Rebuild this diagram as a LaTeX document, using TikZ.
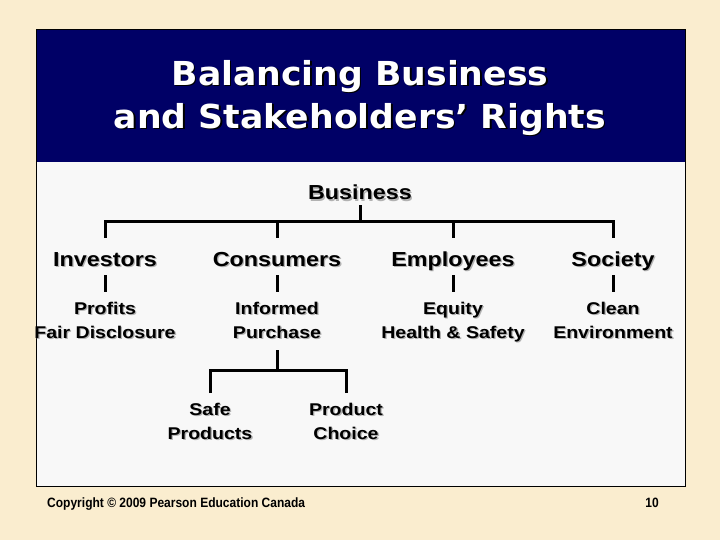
\documentclass[tikz,border=0pt]{standalone}
\usepackage{fontspec}
\setmainfont{Liberation Sans}
\newfontfamily\labelfont[FakeStretch=1.15]{Liberation Sans}
\newfontfamily\titlefont[FakeStretch=1.05]{DejaVu Sans}
\newfontfamily\footfont[FakeStretch=0.89]{Liberation Sans}
\definecolor{parchment}{RGB}{250,237,207}
\definecolor{navy}{RGB}{0,0,102}
\definecolor{panel}{RGB}{248,248,248}
\newcommand{\shd}[2][black!30]{\makebox[0pt][l]{\kern1.3pt\raisebox{-1.3pt}{\color{#1}#2}}#2}
\tikzset{
  stake/.style={font=\labelfont\bfseries\fontsize{20.3}{24}\selectfont, inner ysep=5pt,
    text height=14pt, text depth=4pt},
  right/.style={font=\labelfont\bfseries\fontsize{17}{24}\selectfont, align=center,
    inner ysep=10pt, anchor=north},
  headline/.style={font=\titlefont\bfseries\fontsize{33}{42.6}\selectfont, text=white, anchor=base},
  tree/.style={line width=3pt},
  drop/.style={tree, shorten <=9pt}
}

\begin{document}
\begin{tikzpicture}[x=1pt, y=-1pt]
  \useasboundingbox[fill=parchment] (0,0) rectangle (720,540);
  \fill[navy] (36,30) rectangle (685,162);
  \fill[panel] (36,162) rectangle (685,486);
  \draw[line width=1pt] (36,30) rectangle (685,486);

  \node[headline] (title1) at (360,85.7) {\shd[black]{Balancing Business}};
  \node[headline] (title2) at (360,128.3) {\shd[black]{and Stakeholders’ Rights}};

  \node[stake, anchor=base, text height=, text depth=0pt] (biz) at (360,200) {\shd{Business}};
  \coordinate (bar) at (360,222);

  \node[stake] (inv) at (105,261) {\shd{Investors}};
  \node[stake] (con) at (277,261) {\shd{Consumers}};
  \node[stake] (emp) at (453,261) {\shd{Employees}};
  \node[stake] (soc) at (613,261) {\shd{Society}};

  \node[right] (profit) at (105,292) {\shd{Profits}\\\shd{Fair Disclosure}};
  \node[right] (inform) at (277,292) {\shd{Informed}\\\shd{Purchase}};
  \node[right] (equity) at (453,292) {\shd{Equity}\\\shd{Health \& Safety}};
  \node[right] (clean) at (613,292) {\shd{Clean}\\\shd{Environment}};

  \coordinate (bar2) at (277,370);
  \node[right] (safe) at (210,393) {\shd{Safe}\\\shd{Products}};
  \node[right] (choice) at (346,393) {\shd{Product}\\\shd{Choice}};

  \draw[tree] (biz.south) -- (bar);
  \foreach \n in {inv,con,emp,soc}
    \draw[drop] (\n.north) |- (bar);
  \draw[tree] (inv.south) -- (profit.north);
  \draw[tree] (con.south) -- (inform.north);
  \draw[tree] (emp.south) -- (equity.north);
  \draw[tree] (soc.south) -- (clean.north);

  \draw[tree] (inform.south) -- (bar2);
  \draw[tree] (safe.north) |- (bar2);
  \draw[tree] (choice.north) |- (bar2);

  \node[font=\footfont\bfseries\fontsize{13.5}{15}\selectfont, anchor=base west, inner sep=0pt] (copy) at (47,507)
    {Copyright © 2009 Pearson Education Canada};
  \node[font=\footfont\bfseries\fontsize{13.5}{15}\selectfont, anchor=base, inner sep=0pt] (page) at (652,507) {10};
\end{tikzpicture}
\end{document}
